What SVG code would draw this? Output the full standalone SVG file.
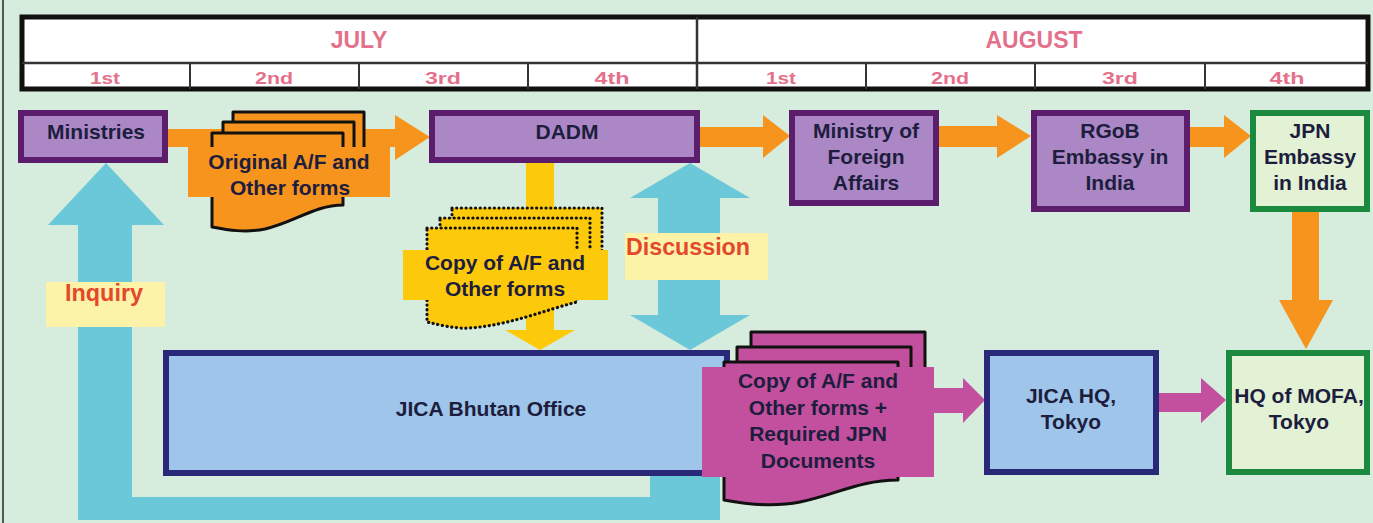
<svg xmlns="http://www.w3.org/2000/svg" width="1373" height="523" viewBox="0 0 1373 523">
<style>
.t{font-family:"Liberation Sans",Arial,sans-serif;font-weight:bold;font-size:21px;fill:#1d1d3d;text-anchor:middle}
.h{font-family:"Liberation Sans",Arial,sans-serif;font-weight:bold;fill:#e4708b;text-anchor:middle}
.m{font-size:23px}
.w{font-size:16px}
.lbl{font-family:"Liberation Sans",Arial,sans-serif;font-weight:bold;font-size:23px;fill:#e4482c;text-anchor:middle}
.pur{fill:#ab87c5;stroke:#5c1e6c;stroke-width:6}
.blu{fill:#9fc5ea;stroke:#2a2878;stroke-width:6}
.grn{fill:#e3f1d5;stroke:#1b8a3e;stroke-width:6}
.or{fill:#f7941d}
.ye{fill:#fdc90b}
.cy{fill:#6bc8d8}
.mg{fill:#c2509e}
.docO{fill:#f7941d;stroke:#111;stroke-width:3;stroke-linejoin:round}
.docY{fill:#fdc90b;stroke:#111;stroke-width:3.2;stroke-dasharray:0.1 4.6;stroke-linecap:round}
.docM{fill:#c2509e;stroke:#111;stroke-width:3;stroke-linejoin:round}
.lb{fill:#fcf3a8}
</style>
<rect x="0" y="0" width="1373" height="523" fill="#d6ecdd"/>
<rect x="2" y="0" width="2" height="523" fill="#555"/>

<g id="header">
<rect x="22" y="17" width="1346" height="72" fill="#fff" stroke="#111" stroke-width="5"/>
<line x1="22" y1="63" x2="1368" y2="63" stroke="#333" stroke-width="2.5"/>
<line x1="697" y1="17" x2="697" y2="89" stroke="#333" stroke-width="2.5"/>
<g stroke="#333" stroke-width="2">
<line x1="190" y1="63" x2="190" y2="89"/><line x1="359" y1="63" x2="359" y2="89"/><line x1="528" y1="63" x2="528" y2="89"/>
<line x1="866" y1="63" x2="866" y2="89"/><line x1="1035" y1="63" x2="1035" y2="89"/><line x1="1205" y1="63" x2="1205" y2="89"/>
</g>
<text class="h m" x="359" y="48">JULY</text>
<text class="h m" x="1034" y="48">AUGUST</text>
<text class="h w" x="105" y="84" textLength="30" lengthAdjust="spacingAndGlyphs">1st</text>
<text class="h w" x="274" y="84" textLength="38" lengthAdjust="spacingAndGlyphs">2nd</text>
<text class="h w" x="443" y="84" textLength="36" lengthAdjust="spacingAndGlyphs">3rd</text>
<text class="h w" x="612" y="84" textLength="35" lengthAdjust="spacingAndGlyphs">4th</text>
<text class="h w" x="781" y="84" textLength="30" lengthAdjust="spacingAndGlyphs">1st</text>
<text class="h w" x="950" y="84" textLength="38" lengthAdjust="spacingAndGlyphs">2nd</text>
<text class="h w" x="1120" y="84" textLength="36" lengthAdjust="spacingAndGlyphs">3rd</text>
<text class="h w" x="1287" y="84" textLength="35" lengthAdjust="spacingAndGlyphs">4th</text>
</g>

<g id="connectors">
<polygon class="cy" points="106,163 164,225 132,225 132,497 650,497 650,470 720,470 720,520 78,520 78,225 48,225"/>
<polygon class="cy" points="690,163 750,198 720,198 720,315 750,315 690,350 630,315 658,315 658,198 630,198"/>
<polygon class="ye" points="526,160 554,160 554,330 575,330 540,350 505,330 526,330"/>
<polygon class="or" points="165,129 395,129 395,115 430,137 395,160 395,147 165,147"/>
<polygon class="or" points="697,127 763,127 763,115 790,136 763,158 763,147 697,147"/>
<polygon class="or" points="936,126 997,126 997,115 1031,136 997,158 997,147 936,147"/>
<polygon class="or" points="1187,127 1224,127 1224,115 1251,136 1224,158 1224,147 1187,147"/>
<polygon class="or" points="1292,209 1319,209 1319,300 1333,300 1306,349 1279,300 1292,300"/>
<polygon class="mg" points="930,388 963,388 963,378 985,400 963,423 963,413 930,413"/>
<polygon class="mg" points="1156,393 1201,393 1201,378 1226,400 1201,423 1201,412 1156,412"/>
<rect class="lb" x="46" y="282" width="119" height="45"/>
<text class="lbl" x="104" y="301" textLength="78" lengthAdjust="spacingAndGlyphs">Inquiry</text>
<rect class="lb" x="625" y="233" width="143" height="47"/>
<text class="lbl" x="688" y="255" textLength="124" lengthAdjust="spacingAndGlyphs">Discussion</text>
</g>

<g id="ministries">
<rect class="pur" x="21" y="113" width="144" height="47"/>
<text class="t" x="96" y="139">Ministries</text>
</g>
<g id="dadm">
<rect class="pur" x="432" y="113" width="265" height="47"/>
<text class="t" x="567" y="139">DADM</text>
</g>
<g id="mofa">
<rect class="pur" x="792" y="113" width="144" height="90"/>
<text class="t" x="866" y="138">Ministry of</text>
<text class="t" x="866" y="164">Foreign</text>
<text class="t" x="866" y="190">Affairs</text>
</g>
<g id="rgob">
<rect class="pur" x="1034" y="113" width="153" height="96"/>
<text class="t" x="1110" y="138">RGoB</text>
<text class="t" x="1110" y="164">Embassy in</text>
<text class="t" x="1110" y="190">India</text>
</g>
<g id="jpn-embassy">
<rect class="grn" x="1253" y="113" width="114" height="96"/>
<text class="t" x="1310" y="138">JPN</text>
<text class="t" x="1310" y="164">Embassy</text>
<text class="t" x="1310" y="190">in India</text>
</g>

<g id="original-forms">
<path class="docO" d="M233,112 H364 V184 C336,184 316,201 286,208 C266,212 249,209 233,206 Z"/>
<path class="docO" d="M223,122 H354 V194 C326,194 306,211 276,218 C256,222 239,219 223,216 Z"/>
<path class="docO" d="M212,133 H343 V205 C315,205 295,222 265,229 C245,233 228,230 212,227 Z"/>
<rect class="or" x="188" y="147" width="202" height="50"/>
<text class="t" x="289" y="169">Original A/F and</text>
<text class="t" x="290" y="195">Other forms</text>
</g>

<g id="copy-forms">
<path class="docY" d="M452,208 H602 V282 C570,290 535,305 495,308 C480,309 465,305 452,302 Z"/>
<path class="docY" d="M440,218 H590 V292 C558,300 523,315 483,318 C468,319 453,315 440,312 Z"/>
<path class="docY" d="M427,228 H577 V302 C545,310 510,325 470,328 C455,329 440,325 427,322 Z"/>
<rect class="ye" x="403" y="250" width="205" height="50"/>
<text class="t" x="505" y="270">Copy of A/F and</text>
<text class="t" x="505" y="296">Other forms</text>
</g>

<g id="jica-bhutan">
<rect class="blu" x="166" y="353" width="561" height="120"/>
<text class="t" x="491" y="416">JICA Bhutan Office</text>
</g>

<g id="copy-jpn-docs">
<path class="docM" d="M751,332 H925 V450 C887,450 862,465 827,472 C802,477 772,474 751,470 Z"/>
<path class="docM" d="M737,347 H911 V465 C873,465 848,480 813,487 C788,492 758,489 737,485 Z"/>
<path class="docM" d="M724,362 H898 V480 C860,480 835,495 800,502 C775,507 745,504 724,500 Z"/>
<rect class="mg" x="702" y="367" width="232" height="110"/>
<text class="t" x="818" y="388">Copy of A/F and</text>
<text class="t" x="818" y="415">Other forms +</text>
<text class="t" x="818" y="441">Required JPN</text>
<text class="t" x="818" y="468">Documents</text>
</g>

<g id="jica-hq">
<rect class="blu" x="987" y="353" width="169" height="119"/>
<text class="t" x="1071" y="403">JICA HQ,</text>
<text class="t" x="1071" y="429">Tokyo</text>
</g>
<g id="hq-mofa">
<rect class="grn" x="1229" y="353" width="138" height="119"/>
<text class="t" x="1299" y="403">HQ of MOFA,</text>
<text class="t" x="1299" y="429">Tokyo</text>
</g>
</svg>
